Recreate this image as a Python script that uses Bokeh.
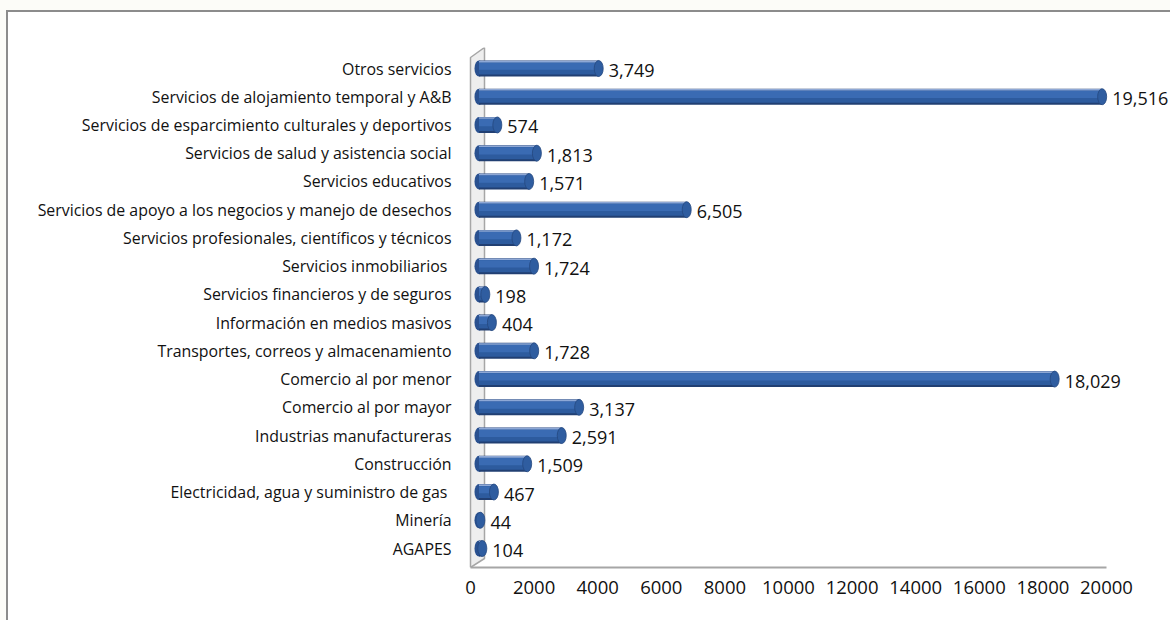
from bokeh.plotting import figure
from bokeh.models import (Range1d, LinearAxis, FixedTicker, ColumnDataSource)
from bokeh.transform import dodge
from bokeh.core.properties import value
from bokeh.embed import file_html
from bokeh.resources import INLINE

# ---------------- data (bottom to top) ----------------
categories = [
    "AGAPES",
    "Minería",
    "Electricidad, agua y suministro de gas ",
    "Construcción",
    "Industrias manufactureras",
    "Comercio al por mayor",
    "Comercio al por menor",
    "Transportes, correos y almacenamiento",
    "Información en medios masivos",
    "Servicios financieros y de seguros",
    "Servicios inmobiliarios ",
    "Servicios profesionales, científicos y técnicos",
    "Servicios de apoyo a los negocios y manejo de desechos",
    "Servicios educativos",
    "Servicios de salud y asistencia social",
    "Servicios de esparcimiento culturales y deportivos",
    "Servicios de alojamiento temporal y A&B",
    "Otros servicios",
]
values = [104, 44, 467, 1509, 2591, 3137, 18029, 1728, 404, 198,
          1724, 1172, 6505, 1571, 1813, 574, 19516, 3749]
tick_values = [0, 2000, 4000, 6000, 8000, 10000, 12000, 14000, 16000, 18000, 20000]

# ---------------- layout constants (pixels) ----------------
W, H = 1170, 620
FL, FR, FT, FB = 466, 1169, 47, 567
X0, SX = 478.5, 0.03193          # bar scale: px of value 0, px per unit
A0, SA = 470.0, 636.0 / 20000    # tick scale (front plane of the 3D floor)
Y0, DY = 548.0, 28.235           # px of bottom row, px per row

def px_x(px):
    return (px - X0) / SX

def px_y(py):
    return (Y0 - py) / DY

idx = list(range(len(categories)))
src = ColumnDataSource(dict(
    y=idx, v=values, lbl=["{:,}".format(v) for v in values]))

p = figure(width=W, height=H, output_backend="svg", toolbar_location=None,
           x_range=Range1d(px_x(FL), px_x(FR)),
           y_range=Range1d(px_y(FB), px_y(FT)),
           x_axis_location=None,
           min_border_left=FL, min_border_right=W - FR,
           min_border_top=FT, min_border_bottom=H - FB)
p.extra_x_ranges = {"ax": Range1d((FL - A0) / SA, (FR - A0) / SA)}
p.outline_line_color = None
p.background_fill_color = "white"
p.border_fill_alpha = 0.0
p.grid.visible = False

# outer chart frame (drawn as the page background behind the transparent canvas)
frame_col = "#8c8c8c"
p.styles = {
    "background-color": "#fcfcf8",
    "background-image": ("linear-gradient(%s,%s), linear-gradient(%s,%s), "
                         "linear-gradient(#ffffff,#ffffff)") % ((frame_col,) * 4),
    "background-size": "2px 100%, 100% 2px, 100% 100%",
    "background-position": "6px 10px, 6px 10px, 8px 12px",
    "background-repeat": "no-repeat",
}

# 3D wall on the left
p.patch([px_x(470), px_x(484), px_x(484), px_x(470)],
        [px_y(57), px_y(47), px_y(558), px_y(567)],
        fill_color="#eeeeee", line_color="#a6a6a6", line_width=1.5)

# bottom axis (floor)
ax = LinearAxis(x_range_name="ax", ticker=FixedTicker(ticks=tick_values),
                bounds=(0, 20000))
ax.axis_line_color = "#a6a6a6"
ax.axis_line_width = 2
ax.major_tick_line_color = None
ax.minor_tick_line_color = None
ax.major_tick_out = 0
ax.minor_tick_out = 0
ax.major_label_standoff = 13
ax.major_label_text_font = "Open Sans"
ax.major_label_text_font_size = "18.5px"
ax.major_label_text_color = "#111111"
p.add_layout(ax, "below")

# category axis
p.yaxis.ticker = FixedTicker(ticks=idx)
p.yaxis.major_label_overrides = {i: c for i, c in zip(idx, categories)}
p.yaxis.axis_line_color = None
p.yaxis.major_tick_line_color = None
p.yaxis.minor_tick_line_color = None
p.yaxis.major_tick_out = 0
p.yaxis.minor_tick_out = 0
p.yaxis.major_label_standoff = 15
p.yaxis.major_label_text_font = "Open Sans"
p.yaxis.major_label_text_font_size = "15.9px"
p.yaxis.major_label_text_color = "#111111"

# cylinder bars (layered shading)
bh = 16.0 / DY
p.ellipse(x=0, y="y", width=9, height=16, width_units="screen", height_units="screen",
          source=src, fill_color="#2a5190", line_color=None)
p.hbar(y="y", left=0, right="v", height=bh, source=src,
       fill_color="#213f72", line_color=None)
p.hbar(y=dodge("y", 0.02, range=p.y_range), left=0, right="v", height=bh * 0.82,
       source=src, fill_color="#2d5b9e", line_color=None)
p.hbar(y=dodge("y", 0.08, range=p.y_range), left=0, right="v", height=bh * 0.45,
       source=src, fill_color="#3a6bb3", line_color=None)
p.hbar(y=dodge("y", 0.245, range=p.y_range), left=0, right="v", height=bh * 0.1,
       source=src, fill_color="#8ea8d6", line_color=None)
p.ellipse(x="v", y="y", width=9, height=16, width_units="screen", height_units="screen",
          source=src, fill_color="#2f5da0", line_color="#24487f", line_width=0.8)

# value labels
p.text(x="v", y="y", text="lbl", source=src, x_offset=10, y_offset=2,
       text_font=value("Open Sans"), text_font_size="18px", text_color="#111111",
       text_baseline="middle", text_align="left")

open("out.html", "w").write(file_html(p, INLINE))
